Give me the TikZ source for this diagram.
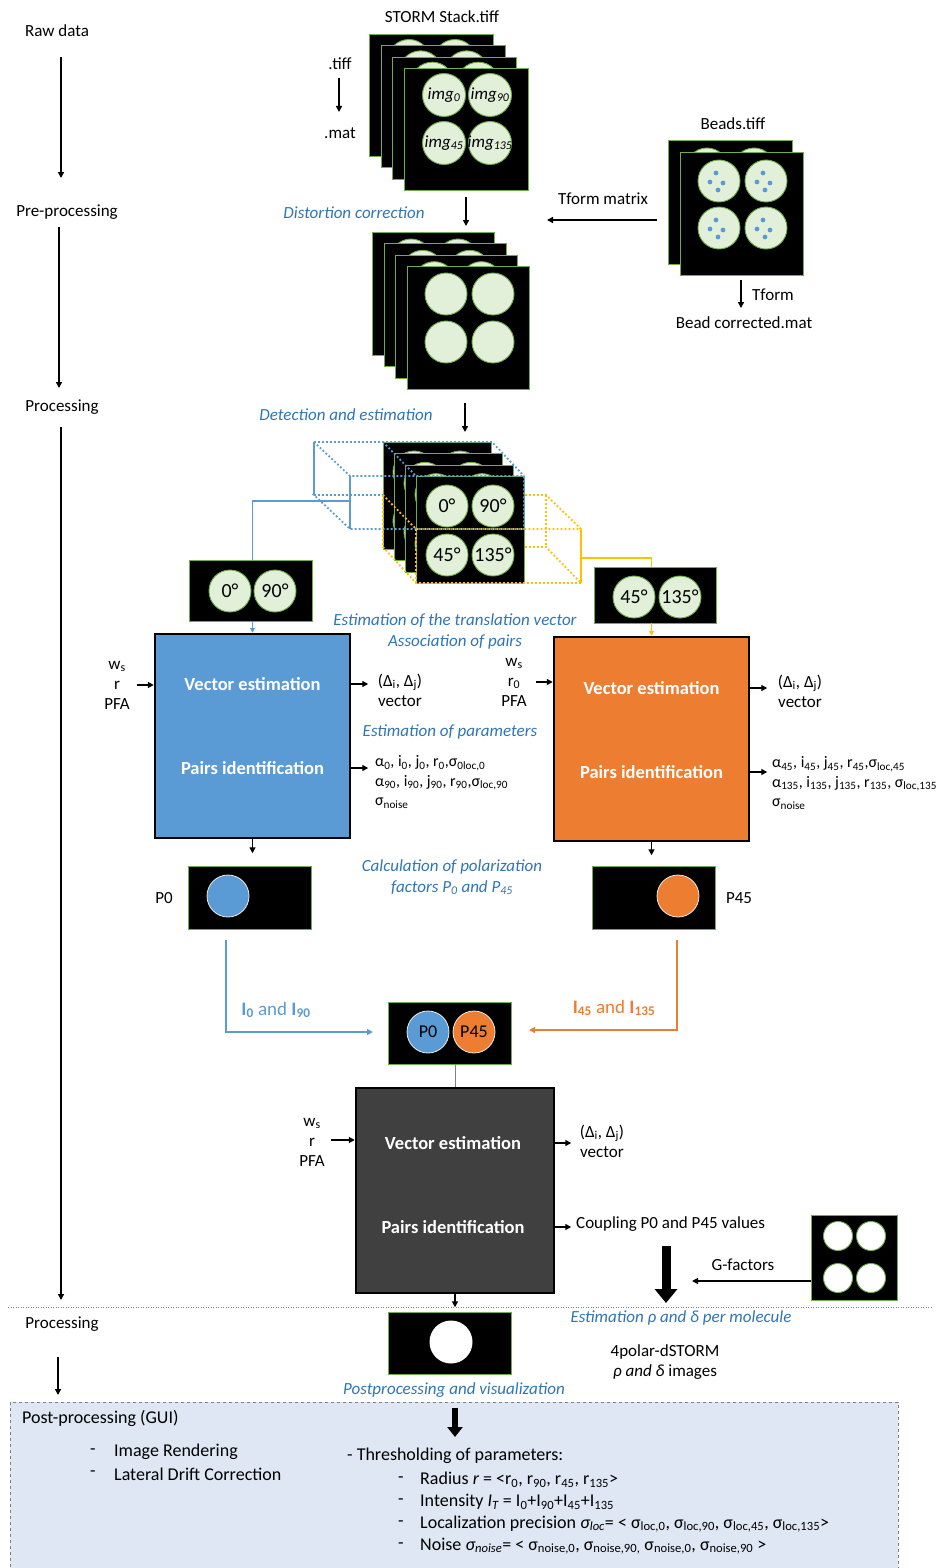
\documentclass[tikz,border=0pt]{standalone}
\usepackage{fontspec}
\setmainfont{Carlito}
\usetikzlibrary{arrows.meta,calc}
\definecolor{pblue}{HTML}{5B9BD5}
\definecolor{porange}{HTML}{ED7D31}
\definecolor{tblue}{HTML}{2E75B6}
\definecolor{cfill}{HTML}{E2F0D9}
\definecolor{cline}{HTML}{70AD47}
\definecolor{pyellow}{HTML}{FFC000}
\definecolor{dgray}{HTML}{404040}
\definecolor{guibg}{HTML}{DEE7F3}
\newcommand{\sbs}[1]{\textsubscript{#1}}
\begin{document}
\begin{tikzpicture}[x=1pt,y=-1pt,
  lbl/.style={inner sep=0pt, font=\fontsize{17}{20}\selectfont, align=center},
  blbl/.style={inner sep=0pt, font=\fontsize{17}{21}\selectfont\itshape, text=tblue, align=center},
  frm/.style={rectangle, draw=cline, fill=black, line width=0.9pt, anchor=north west, inner sep=0pt},
  circ/.style={circle, draw=cline, fill=cfill, line width=0.9pt, minimum size=43pt, inner sep=0pt, font=\fontsize{20}{20}\selectfont},
  imgt/.style={inner sep=0pt, font=\fontsize{17}{20}\selectfont\itshape},
  arr/.style={-{Triangle[length=6pt,width=6pt]}, line width=1.4pt},
  bigbox/.style={rectangle, draw=black, line width=2.5pt, minimum width=195pt, minimum height=204pt, inner sep=0pt},
  boxtxt/.style={inner sep=0pt, text=white, font=\fontsize{18.5}{22}\selectfont\bfseries},
  param/.style={inner sep=0pt, font=\fontsize{16}{19.5}\selectfont, align=left, anchor=west},
  gui/.style={inner sep=0pt, font=\fontsize{18}{21}\selectfont, anchor=west},
  bdot/.style={pblue, line width=1.8pt, dash pattern=on 1.8pt off 2.2pt},
  odot/.style={pyellow, line width=1.8pt, dash pattern=on 1.8pt off 2.2pt},
]
\useasboundingbox (0,0) rectangle (937,1568);

% ---------- left column ----------
\node[lbl] (raw) at (57,31) {Raw data};
\node[lbl] (pre) at (67,212) {Pre-processing};
\node[lbl] (proc) at (62,407) {Processing};
\node[lbl] (proc2) at (62,1324) {Processing};
\coordinate (l1a) at (61,57);   \coordinate (l1b) at (61,178);
\coordinate (l2a) at (59,227);  \coordinate (l2b) at (59,388);
\coordinate (l3a) at (61,427);  \coordinate (l3b) at (61,1300);
\coordinate (l4a) at (58,1357); \coordinate (l4b) at (58,1395);
\draw[arr] (l1a) -- (l1b);
\draw[arr] (l2a) -- (l2b);
\draw[arr] (l3a) -- (l3b);
\draw[arr] (l4a) -- (l4b);

% ---------- post-processing box ----------
\node[rectangle, draw=gray, dashed, fill=guibg, line width=0.8pt, anchor=north west, minimum width=888pt, minimum height=180pt, inner sep=0pt] (guibox) at (10,1402) {};

% ---------- stack 1 (STORM) ----------
\node[lbl] (storm) at (442,17) {STORM Stack.tiff};
\foreach \k in {3,2,1}{
  \node[frm, minimum width=124pt, minimum height=122pt] (sa\k) at ({404-11.67*\k},{68-11.33*\k}) {};
  \foreach \dx/\dy [count=\c] in {40/27,86/27,40/75,86/75}
    \node[circ] (sa\k c\c) at ({404-11.67*\k+\dx},{68-11.33*\k+\dy}) {};
}
\node[frm, minimum width=124pt, minimum height=122pt] (sa0) at (404,68) {};
\node[circ] (ia) at (444,95) {};  \node[imgt] (iat) at (ia) {img\sbs{0}};
\node[circ] (ib) at (490,95) {};  \node[imgt] (ibt) at (ib) {img\sbs{90}};
\node[circ] (ic) at (444,143) {}; \node[imgt] (ict) at (ic) {img\sbs{45}};
\node[circ] (id) at (490,143) {}; \node[imgt] (idt) at (id) {img\sbs{135}};
\node[lbl] (tiff) at (340,64) {.tiff};
\node[lbl] (mat) at (340,133) {.mat};
\coordinate (tm1) at (339,78); \coordinate (tmE) at (339,112);
\draw[arr] (tm1) -- (tmE);

% ---------- stack 2 ----------
\node[blbl] (dist) at (354,213) {Distortion correction};
\foreach \k in {3,2,1}{
  \node[frm, minimum width=122pt, minimum height=123pt] (sb\k) at ({407-11.67*\k},{266-11.33*\k}) {};
  \foreach \dx/\dy [count=\c] in {39/28,86/28,39/76,86/76}
    \node[circ, minimum size=42pt] (sb\k c\c) at ({407-11.67*\k+\dx},{266-11.33*\k+\dy}) {};
}
\node[frm, minimum width=122pt, minimum height=123pt] (sb0) at (407,266) {};
\foreach \dx/\dy [count=\c] in {39/28,86/28,39/76,86/76}
  \node[circ, minimum size=42pt] (sb0c\c) at ({407+\dx},{266+\dy}) {};
\coordinate (d1) at (466,197); \coordinate (d1e) at (466,226);
\draw[arr] (d1) -- (d1e);

% ---------- beads ----------
\node[lbl] (beads) at (733,124) {Beads.tiff};
\node[frm, minimum width=124pt, minimum height=124pt] (bd1) at (668,140) {};
\foreach \dx/\dy [count=\c] in {39/29,86/29,39/76,86/76}
  \node[circ, minimum size=42pt] (bd1c\c) at ({668+\dx},{140+\dy}) {};
\node[frm, minimum width=123pt, minimum height=123pt] (bd0) at (680,152) {};
\foreach \cx/\cy [count=\c] in {719/181,766/181,719/228,766/228}{
  \node[circ, minimum size=42pt] (bd0c\c) at (\cx,\cy) {};
  \foreach \ex/\ey in {-3/-8,-9/1,4/2,-1/9}
    \fill[pblue] ({\cx+\ex},{\cy+\ey}) circle (2.4pt);
}
\node[lbl] (tfm) at (603,199) {Tform matrix};
\coordinate (tm3) at (657,220); \coordinate (tm2) at (547,220);
\draw[arr] (tm3) -- (tm2);
\node[lbl] (tform) at (773,295) {Tform};
\node[lbl] (bcm) at (744,323) {Bead corrected.mat};
\coordinate (tf1) at (741,280); \coordinate (tf2) at (741,308);
\draw[arr] (tf1) -- (tf2);

% ---------- stack 3 ----------
\node[blbl] (det) at (346,415) {Detection and estimation};
\foreach \k in {3,2,1}{
  \node[frm, minimum width=108pt, minimum height=107pt] (sc\k) at ({416-11*\k},{476-11.33*\k}) {};
  \foreach \dx/\dy [count=\c] in {31/30,77/30,31/79,77/79}
    \node[circ, minimum size=42pt] (sc\k c\c) at ({416-11*\k+\dx},{476-11.33*\k+\dy}) {};
}
\node[frm, minimum width=108pt, minimum height=107pt] (sc0) at (416,476) {};
\node[circ, minimum size=42pt] (q0) at (447,506) {0°};
\node[circ, minimum size=42pt] (q90) at (493,506) {90°};
\node[circ, minimum size=42pt] (q45) at (447,555) {45°};
\node[circ, minimum size=42pt] (q135) at (493,555) {135°};
\coordinate (d2) at (465,403); \coordinate (d2e) at (465,432);
\draw[arr] (d2) -- (d2e);

% blue dotted cube
\draw[bdot] (314,442) -- (492,442) -- (524,476);
\draw[bdot] (314,442) -- (350,476) -- (524,476) -- (524,529) -- (350,529) -- (314,495) -- (383,495);
\draw[bdot] (383,442) -- (416,476);
\draw[pblue, line width=1.5pt] (314,442) -- (314,495);
\draw[pblue, line width=1.5pt] (350,476) -- (350,529);
% orange dotted cube
\draw[odot] (383,495) -- (416,529) -- (581,529);
\draw[odot] (383,495) -- (383,547) -- (416,583) -- (581,583);
\draw[odot] (416,529) -- (416,583);
\draw[odot] (525,495) -- (546,495) -- (581,529);
\draw[odot] (525,547) -- (546,547) -- (581,583);
\draw[odot] (546,495) -- (546,547);
\draw[pyellow, line width=1.5pt] (581,529) -- (581,583);

% ---------- small boxes ----------
\node[frm, anchor=center, minimum width=123pt, minimum height=61pt] (s0) at (251,590.5) {};
\node[circ, minimum size=42pt] (s0a) at (230,591) {0°};
\node[circ, minimum size=42pt] (s0b) at (275,591) {90°};
\node[frm, anchor=center, minimum width=122pt, minimum height=56pt] (s45) at (655,595) {};
\node[circ, minimum size=42pt] (s45a) at (634,597) {45°};
\node[circ, minimum size=42pt] (s45b) at (680,597) {135°};

% ---------- big boxes ----------
\node[bigbox, fill=pblue] (bbox) at (252.5,736) {};
\node[bigbox, fill=porange] (obox) at (651.5,739) {};
\node[boxtxt] (bv) at (252.5,684) {Vector estimation};
\node[boxtxt] (bp) at (252.5,768) {Pairs identification};
\node[boxtxt] (ov) at (651.5,688) {Vector estimation};
\node[boxtxt] (op) at (651.5,772) {Pairs identification};

\coordinate (bj) at (350,501);
\draw[pblue, line width=1.5pt] (bj) -- (bj -| bbox.north) -- (bbox.north |- s0.north);
\draw[pblue, line width=1pt, -{Triangle[length=5pt,width=5pt]}] (bbox.north |- s0.south) -- (bbox.north);
\coordinate (oj) at (581,558);
\draw[pyellow, line width=1.5pt] (oj) -- (oj -| obox.north) -- (obox.north |- s45.north);
\draw[pyellow, line width=1pt, -{Triangle[length=5pt,width=5pt]}] (obox.north |- s45.south) -- (obox.north);

\node[blbl] (trans) at (455,631) {Estimation of the translation vector\\Association of pairs};
\node[blbl] (estp) at (450,732) {Estimation of parameters};

% inputs / outputs blue
\node[lbl] (inb) at (117,685) {w\sbs{s}\\r\\PFA};
\coordinate (inbA) at (137,685);
\draw[arr] (inbA) -- (inbA -| bbox.west);
\draw[arr] (bbox.east |- bv) -- ++(17,0);
\node[lbl] (bvo) at (400,690) {(Δ\sbs{i}, Δ\sbs{j})\\vector};
\draw[arr] (bbox.east |- bp) -- ++(17,0);
\node[param] (bpo) at (375,782) {α\sbs{0}, i\sbs{0}, j\sbs{0}, r\sbs{0},σ\sbs{0loc,0}\\α\sbs{90}, i\sbs{90}, j\sbs{90}, r\sbs{90},σ\sbs{loc,90}\\σ\sbs{noise}};

% inputs / outputs orange
\node[lbl] (ino) at (514,682) {w\sbs{s}\\r\sbs{0}\\PFA};
\coordinate (inoA) at (536,682);
\draw[arr] (inoA) -- (inoA -| obox.west);
\draw[arr] (obox.east |- ov) -- ++(17,0);
\node[lbl] (ovo) at (800,691) {(Δ\sbs{i}, Δ\sbs{j})\\vector};
\draw[arr] (obox.east |- op) -- ++(17,0);
\node[param] (opo) at (772,783) {α\sbs{45}, i\sbs{45}, j\sbs{45}, r\sbs{45},σ\sbs{loc,45}\\α\sbs{135}, i\sbs{135}, j\sbs{135}, r\sbs{135}, σ\sbs{loc,135}\\σ\sbs{noise}};

\draw[arr] (bbox.south) -- ++(0,14);
\draw[arr] (obox.south) -- ++(0,13);

% ---------- P0 / P45 ----------
\node[frm, anchor=center, minimum width=123pt, minimum height=63pt] (p0box) at (249.5,897.5) {};
\node[circle, fill=pblue, draw=white!85!gray, line width=0.8pt, minimum size=42pt, inner sep=0pt] (p0c) at (228,896) {};
\node[frm, anchor=center, minimum width=123pt, minimum height=63pt] (p45box) at (653.5,897.5) {};
\node[circle, fill=porange, draw=white!85!gray, line width=0.8pt, minimum size=42pt, inner sep=0pt] (p45c) at (678,896) {};
\node[lbl] (p0l) at (164,898) {P0};
\node[lbl] (p45l) at (739,898) {P45};
\node[blbl] (calc) at (452,877) {Calculation of polarization\\factors P\sbs{0} and P\sbs{45}};

\node[frm, anchor=center, minimum width=123pt, minimum height=62pt] (cbox) at (449.5,1033) {};
\node[circle, fill=pblue, draw=white!85!gray, line width=0.8pt, minimum size=42pt, inner sep=0pt, font=\fontsize{18}{20}\selectfont] (cp0) at (428,1032) {P0};
\node[circle, fill=porange, draw=white!85!gray, line width=0.8pt, minimum size=42pt, inner sep=0pt, font=\fontsize{18}{20}\selectfont] (cp45) at (474,1032) {P45};

\coordinate (bl1) at (226,940); \coordinate (bl2) at (373,1032);
\draw[pblue, line width=1.5pt, -{Triangle[length=6pt,width=6pt]}] (bl1) -- (bl1 |- bl2) -- (bl2);
\coordinate (ol1) at (677,940); \coordinate (ol2) at (529,1030);
\draw[porange, line width=1.5pt, -{Triangle[length=6pt,width=6pt]}] (ol1) -- (ol1 |- ol2) -- (ol2);
\node[inner sep=0pt, text=pblue, font=\fontsize{19}{20}\selectfont] (i0) at (276,1010) {\textbf{I\sbs{0}} and \textbf{I\sbs{90}}};
\node[inner sep=0pt, text=porange, font=\fontsize{19}{20}\selectfont] (i45) at (614,1008) {\textbf{I\sbs{45}} and \textbf{I\sbs{135}}};

% ---------- dark box ----------
\node[bigbox, fill=dgray, minimum width=198pt, minimum height=205pt] (dbox) at (455,1190.5) {};
\node[boxtxt] (dv) at (453,1143) {Vector estimation};
\node[boxtxt] (dp) at (453,1227) {Pairs identification};
\draw[gray, line width=1pt] (dbox.north |- cbox.south) -- (dbox.north);
\node[lbl] (ind) at (312,1142) {w\sbs{s}\\r\\PFA};
\coordinate (indA) at (331,1140);
\draw[arr] (indA) -- (indA -| dbox.west);
\draw[arr] (dbox.east |- dv) -- ++(16,0);
\node[lbl] (dvo) at (602,1141) {(Δ\sbs{i}, Δ\sbs{j})\\vector};
\draw[arr] (dbox.east |- dp) -- ++(16,0);
\node[lbl, anchor=west] (coup) at (576,1224) {Coupling P0 and P45 values};
\draw[arr] (dbox.south) -- ++(0,13);

% G factors
\node[frm, anchor=center, minimum width=86pt, minimum height=85pt] (gbox) at (854,1257.5) {};
\foreach \cx/\cy [count=\c] in {838/1236,871/1236,838/1278,871/1278}
  \node[circle, fill=white, draw=cline, line width=0.9pt, minimum size=29pt, inner sep=0pt] (g\c) at (\cx,\cy) {};
\node[lbl] (gf) at (743,1265) {G-factors};
\coordinate (garr) at (692,1281);
\draw[arr, line width=1.2pt] (gbox.west |- garr) -- (garr);
\coordinate (tk1) at (666,1246); \coordinate (tk2) at (666,1303);
\draw[line width=9pt, -{Triangle[length=14pt,width=22pt]}] (tk1) -- (tk2);

% separator
\coordinate (sepL) at (8,1307); \coordinate (sepR) at (932,1307);
\draw[gray, line width=1pt, dash pattern=on 1pt off 1.5pt] (sepL) -- (sepR);

% ---------- final ----------
\node[frm, anchor=center, minimum width=123pt, minimum height=62pt] (fbox) at (449.5,1343) {};
\node[circle, fill=white, minimum size=43pt, inner sep=0pt] (fc) at (451,1342) {};
\node[blbl] (estrho) at (681,1318) {Estimation ρ and δ per molecule};
\node[lbl] (pol) at (665,1362) {4polar-dSTORM\\\textit{ρ and δ} images};
\node[blbl] (postv) at (454,1390) {Postprocessing and visualization};

% GUI content
\coordinate (ga1) at (455,1408); \coordinate (ga2) at (455,1437);
\draw[line width=6pt, -{Triangle[length=10pt,width=15pt]}] (ga1) -- (ga2);
\node[gui] (guit) at (22,1418) {Post-processing (GUI)};
\node[gui] (gd1) at (90,1452) {-};
\node[gui] (gt1) at (114,1452) {Image Rendering};
\node[gui] (gd2) at (90,1474) {-};
\node[gui] (gt2) at (114,1474) {Lateral Drift Correction};
\node[gui] (thr) at (347,1456) {- Thresholding of parameters:};
\node[gui] (sd1) at (398,1480) {-};
\node[gui] (st1) at (420,1480) {Radius \textit{r} = <r\sbs{0}, r\sbs{90}, r\sbs{45}, r\sbs{135}>};
\node[gui] (sd2) at (398,1502) {-};
\node[gui] (st2) at (420,1502) {Intensity \textit{I\sbs{T}} = I\sbs{0}+I\sbs{90}+I\sbs{45}+I\sbs{135}};
\node[gui] (sd3) at (398,1524) {-};
\node[gui] (st3) at (420,1524) {Localization precision \textit{σ\sbs{loc}}= < σ\sbs{loc,0}, σ\sbs{loc,90}, σ\sbs{loc,45}, σ\sbs{loc,135}>};
\node[gui] (sd4) at (398,1546) {-};
\node[gui] (st4) at (420,1546) {Noise \textit{σ\sbs{noise}}= < σ\sbs{noise,0}, σ\sbs{noise,90,} σ\sbs{noise,0}, σ\sbs{noise,90} >};
\end{tikzpicture}
\end{document}
